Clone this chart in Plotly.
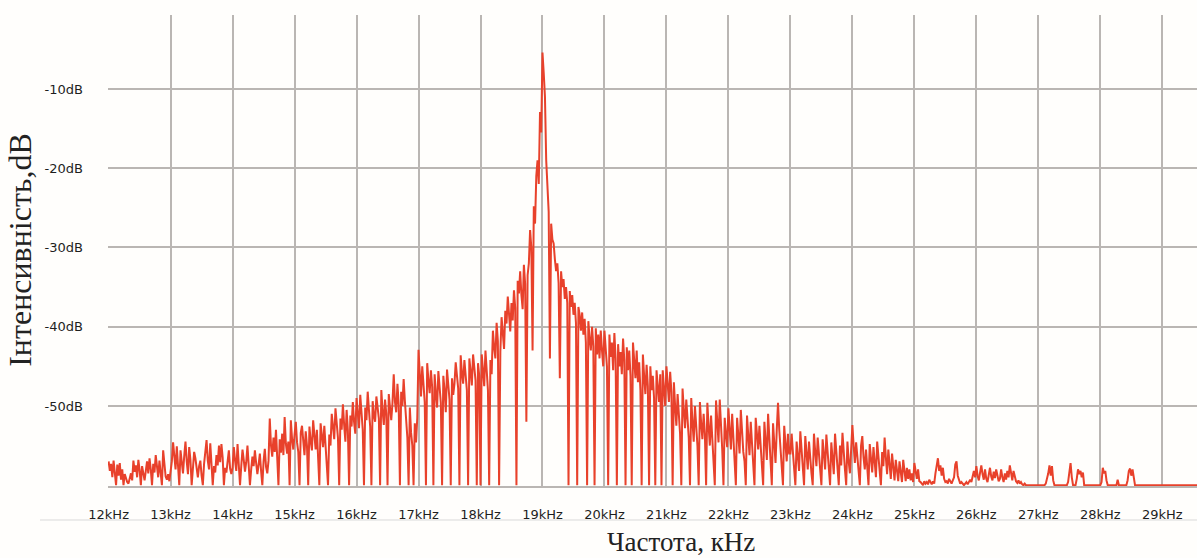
import plotly.graph_objects as go

# ---- data, one list per kHz, 0.02 kHz bins ----
step_khz = 0.02

db_12 = [-57.0, -58.2, -57.3, -59.0, -56.9, -58.4, -60, -57.4, -58.8, -57.2,
         -59.3, -58.0, -60, -58.6, -59.2, -59.6, -59.8, -59.1, -58.5, -59.4,
         -56.9, -58.3, -57.5, -59.0, -56.8, -58.1, -60, -57.6, -58.7, -59.4,
         -58.2, -57.0, -58.5, -56.6, -58.0, -60, -57.3, -58.4, -56.2, -57.8,
         -59.0, -56.9, -58.2, -60, -55.6, -57.6, -58.9, -59.3, -58.6, -59.5]
db_13 = [-58.4, -57.0, -54.6, -56.8, -58.0, -55.1, -57.4, -60, -55.6, -57.2,
         -58.5, -56.3, -54.5, -57.0, -58.6, -55.2, -56.8, -60, -57.1, -55.8,
         -56.6, -58.2, -59.0, -57.6, -56.9, -58.8, -60, -57.3, -56.1, -54.3,
         -56.9, -58.0, -54.7, -57.2, -60, -57.6, -58.4, -56.2, -57.5, -55.0,
         -57.1, -54.8, -56.5, -60, -57.8, -58.4, -57.0, -55.6, -57.9, -58.6]
db_14 = [-57.8, -55.2, -56.9, -58.2, -54.8, -57.0, -60, -57.6, -55.5, -56.8,
         -58.3, -57.1, -55.0, -57.5, -60, -58.0, -56.4, -57.6, -55.6, -57.2,
         -58.6, -57.4, -56.0, -58.2, -60, -57.0, -55.4, -57.7, -58.5, -56.9,
         -51.6, -55.0, -56.4, -54.0, -55.8, -53.0, -56.6, -60, -54.2, -55.9,
         -53.5, -56.2, -51.4, -54.8, -56.0, -54.5, -60, -51.8, -54.2, -55.5]
db_15 = [-53.6, -52.0, -54.6, -55.8, -60, -53.4, -52.5, -54.9, -56.2, -53.2,
         -55.0, -60, -52.6, -54.4, -55.6, -51.8, -54.0, -55.5, -53.0, -56.0,
         -60, -52.2, -54.3, -55.2, -52.5, -54.8, -56.4, -60, -53.6, -55.0,
         -51.0, -53.2, -54.2, -50.3, -52.8, -54.0, -60, -51.6, -53.0, -49.8,
         -52.4, -54.5, -50.5, -53.1, -60, -51.2, -52.6, -49.5, -52.0, -53.5]
db_16 = [-49.0, -51.5, -52.8, -48.6, -50.6, -53.0, -60, -50.2, -51.8, -48.2,
         -50.5, -52.6, -60, -49.4, -51.2, -52.0, -48.8, -50.3, -51.6, -60,
         -48.0, -50.6, -52.4, -49.2, -51.0, -60, -48.5, -50.2, -51.8, -49.6,
         -46.0, -49.5, -50.8, -47.2, -49.8, -60, -48.2, -50.0, -46.6, -49.4,
         -52.5, -54.0, -60, -50.2, -53.4, -55.0, -60, -52.2, -54.6, -51.5]
db_17 = [-42.9, -46.5, -48.8, -45.0, -47.2, -49.5, -60, -44.6, -46.8, -48.4,
         -45.5, -47.6, -60, -46.0, -48.5, -50.2, -45.6, -47.8, -49.6, -60,
         -46.2, -48.0, -50.8, -45.4, -47.5, -49.2, -60, -46.5, -48.6, -47.2,
         -44.5, -46.4, -47.8, -60, -43.6, -45.8, -47.2, -44.2, -46.0, -48.0,
         -60, -44.0, -45.6, -47.4, -43.5, -45.2, -46.8, -60, -44.6, -46.2]
db_18 = [-60, -43.5, -45.8, -47.5, -43.0, -46.2, -48.0, -60, -44.2, -46.0,
         -40.5, -42.6, -44.0, -39.5, -41.8, -60, -43.2, -38.8, -41.0, -42.8,
         -38.0, -39.6, -36.2, -38.8, -40.6, -37.0, -39.2, -35.4, -37.6, -60,
         -34.2, -35.8, -33.0, -36.0, -37.8, -32.2, -34.6, -52.0, -33.5, -32.0,
         -27.8, -30.0, -43.0, -24.8, -27.0, -21.0, -19.0, -22.0, -12.9, -15.5]
db_19 = [-5.4, -8.0, -11.0, -19.0, -23.0, -25.5, -44.0, -27.0, -29.0, -29.5,
         -31.5, -33.0, -32.0, -34.5, -46.5, -33.0, -35.0, -34.0, -36.5, -35.0,
         -37.0, -60, -35.5, -37.5, -36.0, -38.5, -37.0, -39.5, -60, -37.5,
         -38.5, -40.5, -38.2, -41.0, -39.0, -42.0, -60, -39.3, -41.5, -43.0,
         -40.0, -42.5, -60, -40.2, -43.5, -41.0, -44.0, -40.5, -43.0, -45.0]
db_20 = [-40.5, -43.5, -45.0, -60, -41.0, -43.8, -42.0, -45.5, -40.8, -44.0,
         -60, -42.2, -45.0, -43.2, -46.0, -41.5, -44.2, -60, -42.6, -45.5,
         -43.0, -46.2, -60, -42.0, -44.6, -46.5, -43.0, -47.0, -44.5, -48.0,
         -60, -43.5, -46.2, -48.5, -44.8, -47.5, -60, -45.0, -48.0, -46.2,
         -49.0, -60, -45.5, -47.2, -49.5, -46.0, -60, -45.5, -48.5, -50.0]
db_21 = [-45.0, -47.5, -49.5, -45.7, -48.2, -60, -47.0, -50.0, -52.5, -48.5,
         -51.0, -53.5, -60, -47.8, -50.5, -52.8, -49.2, -51.5, -54.0, -60,
         -49.0, -52.0, -54.5, -50.0, -53.0, -55.0, -60, -49.5, -52.2, -54.2,
         -51.0, -53.5, -60, -49.6, -52.5, -55.0, -51.2, -53.8, -56.0, -60,
         -49.3, -52.4, -54.6, -49.2, -52.0, -55.5, -60, -51.5, -53.6, -55.2]
db_22 = [-50.3, -53.0, -55.5, -51.0, -54.0, -56.5, -60, -51.5, -53.8, -56.0,
         -50.5, -53.5, -55.8, -57.0, -60, -51.2, -54.0, -56.2, -52.0, -55.0,
         -57.2, -60, -51.5, -53.6, -55.5, -52.5, -55.2, -57.5, -60, -52.0,
         -54.5, -56.8, -51.0, -54.0, -56.0, -60, -52.2, -55.0, -57.2, -53.0,
         -49.6, -53.0, -55.5, -57.0, -60, -52.5, -55.0, -57.0, -53.5, -56.0]
db_23 = [-56.0, -53.5, -55.8, -57.5, -60, -54.5, -56.5, -58.2, -53.2, -55.6,
         -57.4, -60, -53.8, -56.0, -58.0, -54.5, -57.0, -58.5, -60, -53.5,
         -55.8, -57.6, -54.0, -56.5, -58.5, -60, -54.2, -56.8, -58.0, -53.6,
         -55.5, -57.8, -60, -54.6, -57.0, -58.6, -53.5, -56.0, -57.5, -60,
         -55.0, -57.5, -53.4, -56.2, -58.0, -60, -54.5, -57.0, -58.5, -55.5]
db_24 = [-52.4, -55.0, -57.2, -54.6, -56.8, -58.5, -60, -55.0, -53.8, -56.5,
         -58.0, -55.5, -57.6, -60, -54.8, -56.6, -58.4, -55.2, -57.5, -59.0,
         -54.5, -56.8, -58.2, -60, -55.8, -57.6, -54.0, -56.5, -58.6, -55.5,
         -57.8, -59.2, -56.0, -58.0, -59.4, -56.8, -58.4, -59.5, -57.0, -58.8,
         -59.6, -56.8, -58.5, -59.5, -57.8, -59.2, -58.0, -59.4, -58.5, -59.6]
db_25 = [-57.2, -58.5, -59.2, -58.0, -59.5, -59.6, -59.9, -60, -59.5, -59.8,
         -59.6, -59.9, -59.3, -59.7, -59.9, -59.5, -59.8, -58.5, -57.6, -56.6,
         -58.2, -57.5, -58.8, -57.8, -59.2, -59.6, -59.5, -59.8, -59.2, -59.6,
         -59.8, -59.4, -59.0, -57.4, -57.0, -58.8, -59.5, -59.8, -59.6, -59.9,
         -60, -59.8, -59.6, -59.9, -59.5, -59.3, -59.6, -58.8, -58.2, -59.0]
db_26 = [-57.6, -58.8, -59.4, -58.4, -57.5, -58.6, -59.3, -58.0, -59.2, -59.6,
         -58.6, -57.8, -58.9, -59.4, -58.3, -59.1, -58.0, -58.8, -59.5, -59.2,
         -58.0, -59.0, -59.6, -58.5, -59.3, -58.2, -59.0, -57.5, -58.6, -59.4,
         -58.2, -59.0, -59.5, -59.7, -59.4, -59.8, -59.6, -59.9, -60, -59.8,
         -60, -60, -60, -60, -60, -60, -60, -60, -60, -60]
db_27 = [-60, -60, -60, -60, -60, -60, -59.8, -59.2, -58.5, -57.5,
         -58.8, -57.6, -59.4, -60, -60, -60, -60, -60, -60, -60,
         -60, -60, -60, -60, -59.6, -58.5, -57.2, -59.0, -60, -60,
         -60, -59.2, -58.0, -58.6, -58.2, -59.0, -58.4, -60, -60, -60,
         -60, -60, -60, -60, -60, -60, -60, -60, -60, -60]
db_28 = [-60, -59.6, -57.8, -58.5, -58.2, -59.4, -60, -60, -60, -60,
         -60, -60, -60, -60, -59.3, -60, -60, -60, -60, -60,
         -60, -60, -59.4, -58.2, -57.9, -58.8, -58.0, -59.2, -60, -60,
         -60, -60, -60, -60, -60, -60, -60, -60, -60, -60,
         -60, -60, -60, -60, -60, -60, -60, -60, -60, -60]
db_29 = [-60] * 31

blocks = [(12, db_12), (13, db_13), (14, db_14), (15, db_15), (16, db_16), (17, db_17),
          (18, db_18), (19, db_19), (20, db_20), (21, db_21), (22, db_22), (23, db_23),
          (24, db_24), (25, db_25), (26, db_26), (27, db_27), (28, db_28), (29, db_29)]

freq_khz, level_db = [], []
for start, vals in blocks:
    for i, v in enumerate(vals):
        freq_khz.append(round(start + i * step_khz, 3))
        level_db.append(v)

x_tick_vals = [12, 13, 14, 15, 16, 17, 18, 19, 20, 21, 22, 23, 24, 25, 26, 27, 28, 29]
x_tick_text = ["12kHz", "13kHz", "14kHz", "15kHz", "16kHz", "17kHz", "18kHz", "19kHz", "20kHz",
               "21kHz", "22kHz", "23kHz", "24kHz", "25kHz", "26kHz", "27kHz", "28kHz", "29kHz"]
y_tick_vals = [-10, -20, -30, -40, -50]
y_tick_text = ["-10dB", "-20dB", "-30dB", "-40dB", "-50dB"]

# ---- figure ----
RED = "#e8412b"
GRID = "#bab6b3"
BG = "#fffefc"

fig = go.Figure()
fig.add_trace(go.Scatter(x=freq_khz, y=level_db, mode="lines",
                         line=dict(color=RED, width=2), hoverinfo="skip"))

fig.update_layout(
    width=1197, height=558,
    margin=dict(l=108, r=0, t=15, b=72),
    paper_bgcolor=BG, plot_bgcolor=BG,
    showlegend=False,
    xaxis=dict(range=[11.99, 29.56], tickmode="array", tickvals=x_tick_vals, ticktext=x_tick_text,
               showgrid=True, gridcolor=GRID, gridwidth=2, zeroline=False,
               showline=True, linecolor=GRID, linewidth=2, layer="below traces",
               ticks="", ticklabelstandoff=15,
               tickfont=dict(family="DejaVu Sans", size=13, color="#1e1e1e")),
    yaxis=dict(range=[-60.1, -0.67], tickmode="array", tickvals=y_tick_vals, ticktext=y_tick_text,
               showgrid=True, gridcolor=GRID, gridwidth=2, zeroline=False, showline=False,
               ticks="", ticklabelstandoff=24,
               tickfont=dict(family="DejaVu Sans", size=13, color="#1e1e1e")),
    shapes=[dict(type="line", xref="paper", yref="paper", x0=-0.0624, x1=1.0,
                 y0=-0.0722, y1=-0.0722, line=dict(color="#d9d9d9", width=1))],
    annotations=[
        dict(text="Частота, кHz", xref="paper", yref="paper", x=0.526, y=-0.119,
             xanchor="center", yanchor="middle", showarrow=False,
             font=dict(family="Liberation Serif", size=27, color="#222222")),
        dict(text="Інтенсивність,dB", xref="paper", yref="paper", x=-0.081, y=0.501,
             xanchor="center", yanchor="middle", textangle=-90, showarrow=False,
             font=dict(family="Liberation Serif", size=32, color="#222222")),
    ],
)

fig.write_html("out.html")
